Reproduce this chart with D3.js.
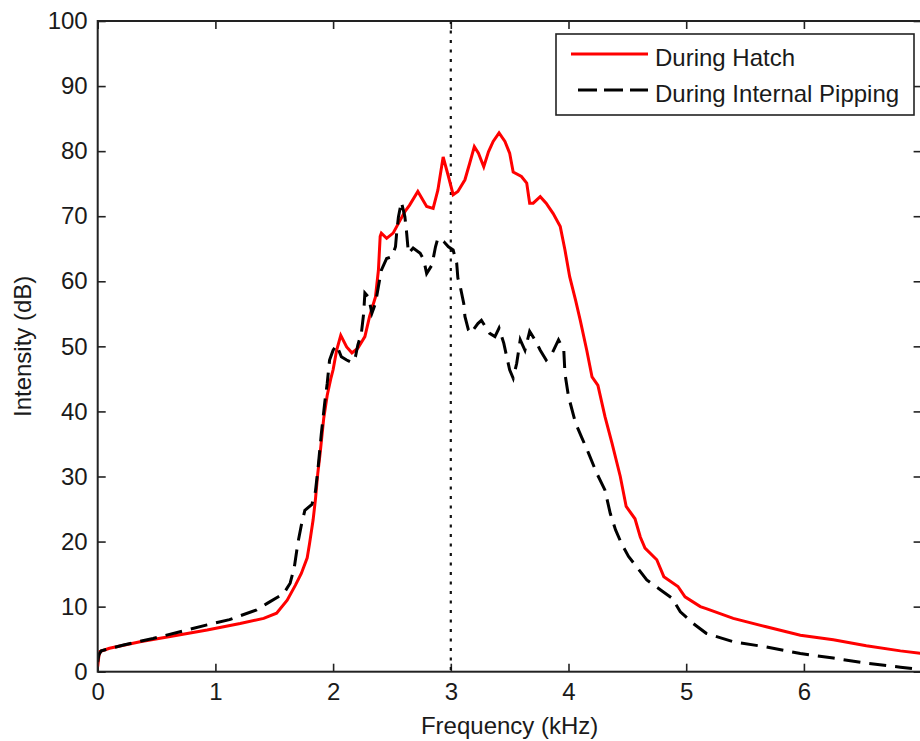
<!DOCTYPE html>
<html>
<head>
<meta charset="utf-8">
<script src="https://cdn.jsdelivr.net/npm/d3@7"></script>
<style>
  body { margin: 0; background: #fff; }
  svg text { font-family: "Liberation Sans", Arial, sans-serif; fill: #1a1a1a; }
</style>
</head>
<body>
<div id="chart"></div>
<script>
// Spectrum during hatch (red, solid)
const hatchFreq = [0, 0.01, 0.02, 0.1, 0.36, 0.64, 0.93, 1.21, 1.41, 1.52, 1.61, 1.68, 1.73, 1.78, 1.8, 1.83, 1.85, 1.87, 1.89, 1.92, 1.95, 1.98, 2.0, 2.03, 2.065, 2.115, 2.16, 2.21, 2.27, 2.31, 2.36, 2.385, 2.4, 2.41, 2.455, 2.51, 2.57, 2.61, 2.65, 2.72, 2.795, 2.85, 2.89, 2.935, 2.98, 3.02, 3.06, 3.12, 3.16, 3.2, 3.235, 3.28, 3.32, 3.36, 3.41, 3.46, 3.5, 3.53, 3.6, 3.645, 3.67, 3.7, 3.76, 3.81, 3.87, 3.93, 3.97, 4.01, 4.06, 4.1, 4.155, 4.2, 4.25, 4.31, 4.37, 4.44, 4.49, 4.565, 4.61, 4.65, 4.75, 4.81, 4.93, 4.99, 5.12, 5.17, 5.4, 5.68, 5.97, 6.25, 6.53, 6.82, 7.0]
const hatchDb = [0.8, 2.4, 3.1, 3.6, 4.6, 5.5, 6.4, 7.4, 8.2, 9.0, 11.0, 13.3, 15.1, 17.5, 19.7, 23.3, 26.5, 30.5, 33.6, 38.9, 42.5, 45.0, 46.4, 49.4, 51.7, 49.9, 49.0, 49.7, 51.5, 54.6, 57.6, 61.7, 66.9, 67.4, 66.6, 67.4, 69.4, 70.7, 71.7, 73.8, 71.5, 71.2, 74.0, 79.1, 76.1, 73.3, 73.8, 75.6, 78.1, 80.7, 79.7, 77.6, 79.9, 81.5, 82.8, 81.5, 79.7, 76.8, 76.1, 75.1, 72.0, 72.0, 73.0, 72.0, 70.4, 68.4, 64.8, 60.7, 57.1, 54.0, 49.4, 45.3, 44.0, 39.2, 35.1, 30.0, 25.4, 23.5, 20.7, 19.0, 17.2, 14.6, 13.1, 11.5, 10.0, 9.7, 8.2, 6.9, 5.6, 4.9, 4.0, 3.2, 2.8]

// Spectrum during internal pipping (black, dashed)
const pipFreq = [0, 0.01, 0.03, 0.22, 0.47, 0.7, 0.93, 1.12, 1.35, 1.44, 1.58, 1.635, 1.67, 1.7, 1.73, 1.76, 1.82, 1.85, 1.875, 1.9, 1.93, 1.95, 1.97, 2.0, 2.03, 2.07, 2.115, 2.16, 2.19, 2.21, 2.24, 2.26, 2.27, 2.3, 2.33, 2.36, 2.385, 2.41, 2.455, 2.5, 2.53, 2.54, 2.555, 2.58, 2.61, 2.625, 2.64, 2.68, 2.74, 2.77, 2.795, 2.84, 2.87, 2.89, 2.94, 2.98, 3.02, 3.05, 3.06, 3.08, 3.11, 3.12, 3.15, 3.17, 3.19, 3.23, 3.26, 3.33, 3.375, 3.41, 3.45, 3.475, 3.5, 3.53, 3.56, 3.59, 3.63, 3.67, 3.715, 3.76, 3.81, 3.86, 3.915, 3.96, 3.97, 4.0, 4.06, 4.11, 4.17, 4.24, 4.31, 4.355, 4.4, 4.45, 4.51, 4.58, 4.665, 4.78, 4.88, 4.95, 5.06, 5.17, 5.4, 5.68, 5.97, 6.25, 6.53, 6.82, 7.0]
const pipDb = [1.5, 2.6, 3.2, 4.1, 5.1, 6.15, 7.2, 8.0, 9.5, 10.5, 12.0, 13.6, 16.0, 19.7, 22.5, 24.8, 25.7, 27.7, 31.8, 36.6, 41.5, 44.3, 47.9, 49.4, 50.2, 48.4, 47.9, 47.5, 48.4, 50.2, 52.0, 55.1, 58.2, 57.6, 55.1, 56.6, 59.2, 61.7, 63.5, 63.8, 65.3, 67.4, 69.9, 72.2, 69.9, 67.4, 64.3, 65.1, 64.3, 63.3, 61.2, 62.5, 65.3, 66.6, 66.1, 65.3, 64.8, 62.8, 60.5, 59.2, 56.6, 54.6, 52.5, 52.0, 52.5, 53.5, 54.0, 52.0, 51.5, 52.8, 50.5, 48.4, 46.4, 45.1, 47.4, 51.0, 49.4, 52.3, 51.0, 49.4, 47.9, 48.9, 51.0, 49.4, 45.8, 42.3, 38.2, 36.1, 33.6, 30.5, 27.9, 24.3, 21.8, 19.7, 17.7, 16.1, 14.1, 12.6, 11.3, 9.2, 7.4, 5.9, 4.6, 3.8, 2.8, 2.1, 1.3, 0.7, 0.3]

const xTicks = [0, 1, 2, 3, 4, 5, 6]
const yTicks = [0, 10, 20, 30, 40, 50, 60, 70, 80, 90, 100]
const markerFreq = 3

const width = 920, height = 741
const margin = ({top: 21, left: 97.7})
const plotW = 7 * 117.7, plotH = 650.7

const svg = d3.select("#chart").append("svg").attr("width", width).attr("height", height)

const x = d3.scaleLinear().domain([0, 7]).range([margin.left, margin.left + plotW])
const y = d3.scaleLinear().domain([0, 100]).range([margin.top + plotH, margin.top])

svg.append("clipPath").attr("id", "clip")
  .append("rect").attr("x", margin.left).attr("y", margin.top).attr("width", plotW).attr("height", plotH)

// Axes (ticks inward on all four sides)
const styleAxis = g => {
  g.select(".domain").remove()
  g.selectAll(".tick line").attr("stroke", "#222").attr("stroke-width", 1.6)
  g.selectAll(".tick text").attr("font-size", 24).attr("fill", "#1a1a1a")
}
svg.append("g")
  .attr("transform", `translate(0,${y(0)})`)
  .call(d3.axisBottom(x).tickValues(xTicks).tickSize(-8).tickPadding(11).tickFormat(d3.format("d")))
  .call(styleAxis)
svg.append("g")
  .attr("transform", `translate(0,${y(100)})`)
  .call(d3.axisTop(x).tickValues(xTicks).tickSize(-8).tickFormat(""))
  .call(styleAxis)
svg.append("g")
  .attr("transform", `translate(${x(0)},0)`)
  .call(d3.axisLeft(y).tickValues(yTicks).tickSize(-8).tickPadding(10).tickFormat(d3.format("d")))
  .call(styleAxis)
svg.append("g")
  .attr("transform", `translate(${x(7)},0)`)
  .call(d3.axisRight(y).tickValues(yTicks).tickSize(-8).tickFormat(""))
  .call(styleAxis)

// Dotted marker at 3 kHz
svg.append("line")
  .attr("x1", x(markerFreq)).attr("x2", x(markerFreq))
  .attr("y1", y(100)).attr("y2", y(0))
  .attr("stroke", "#111").attr("stroke-width", 2.2).attr("stroke-dasharray", "3,6.5")

const line = d3.line().x(d => x(d[0])).y(d => y(d[1]))
const hatch = hatchFreq.map((f, i) => [f, hatchDb[i]])
const pip = pipFreq.map((f, i) => [f, pipDb[i]])

const lines = svg.append("g").attr("clip-path", "url(#clip)").attr("fill", "none")
lines.append("path").datum(hatch)
  .attr("d", line).attr("stroke", "#ff0000").attr("stroke-width", 3)
lines.append("path").datum(pip)
  .attr("d", line).attr("stroke", "#000").attr("stroke-width", 3).attr("stroke-dasharray", "17,9")

// Frame
svg.append("rect")
  .attr("x", margin.left).attr("y", margin.top).attr("width", plotW).attr("height", plotH)
  .attr("fill", "none").attr("stroke", "#222").attr("stroke-width", 2)

// Axis labels
svg.append("text")
  .attr("x", x(0) + plotW / 2).attr("y", 734)
  .attr("text-anchor", "middle").attr("font-size", 24)
  .text("Frequency (kHz)")
svg.append("text")
  .attr("transform", `translate(31,${margin.top + plotH / 2}) rotate(-90)`)
  .attr("text-anchor", "middle").attr("font-size", 24)
  .text("Intensity (dB)")

// Legend
const legend = svg.append("g")
legend.append("rect")
  .attr("x", 556).attr("y", 34).attr("width", 358).attr("height", 81)
  .attr("fill", "#fff").attr("stroke", "#222").attr("stroke-width", 1.6)
const entries = [
  {label: "During Hatch", color: "#ff0000", dash: null, y: 54, x1: 571},
  {label: "During Internal Pipping", color: "#000", dash: "19,7", y: 90, x1: 578}
]
entries.forEach(e => {
  legend.append("line")
    .attr("x1", e.x1).attr("x2", 648).attr("y1", e.y).attr("y2", e.y)
    .attr("stroke", e.color).attr("stroke-width", 3)
    .attr("stroke-dasharray", e.dash)
  legend.append("text")
    .attr("x", 655).attr("y", e.y + 12).attr("font-size", 24)
    .text(e.label)
})
</script>
</body>
</html>
